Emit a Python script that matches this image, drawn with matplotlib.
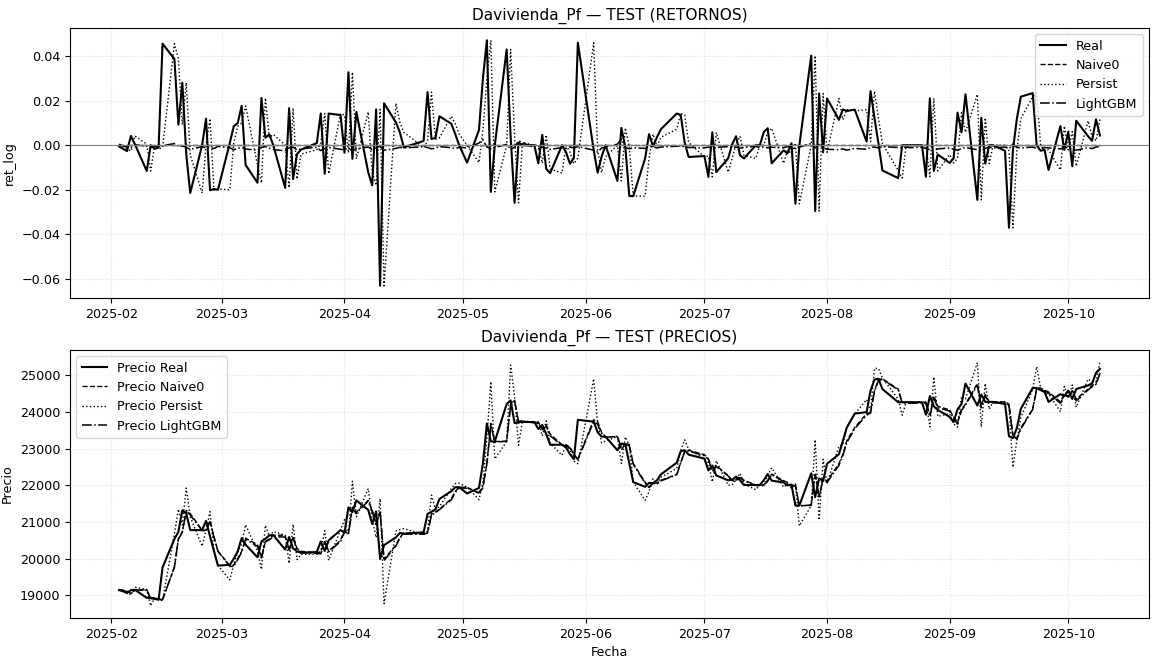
import numpy as np
import pandas as pd
import matplotlib
matplotlib.use("Agg")
import matplotlib.pyplot as plt

plt.rcParams["font.size"] = 9.2

# Trading calendar (Colombian market holidays removed)
festivos = ["2025-03-24", "2025-04-17", "2025-04-18", "2025-05-01", "2025-06-02",
            "2025-06-23", "2025-06-30", "2025-08-07", "2025-08-18"]
fechas = pd.bdate_range("2025-02-03", "2025-10-09", freq="C", holidays=festivos)

# Closing prices (COP) by month
precio_feb = [19140, 19110, 19060, 19140, 19150, 18930, 18930, 18900, 18880, 19760,
              20540, 20730, 21320, 21230, 20780, 20780, 21030, 20610, 20210, 19810]
precio_mar = [19830, 20000, 20200, 20560, 20380, 20040, 20470, 20540, 20640, 20640,
              20250, 20590, 20280, 20200, 20160, 20180, 20470, 20210, 20500, 20780]
precio_abr = [20710, 21400, 21270, 21590, 21330, 20950, 21290, 19990, 20370, 20580,
              20700, 20680, 20720, 21220, 21280, 21350, 21630, 21840, 21950, 21950]
precio_may = [21780, 21930, 22600, 23690, 23200, 23200, 24220, 24320, 23700, 23730,
              23730, 23730, 23540, 23650, 23400, 23110, 23110, 23040, 22850, 22720, 23790]
precio_jun = [23740, 23450, 23330, 23330, 22960, 23140, 23120, 22600, 22090, 21960,
              22070, 22060, 22140, 22300, 22620, 22930, 22960, 22840]
precio_jul = [22730, 22410, 22540, 22270, 22140, 22150, 22240, 22140, 22010, 22010,
              22010, 22140, 22310, 22130, 22080, 22000, 22020, 21450, 21450, 22330,
              21680, 22190, 22120]
precio_ago = [22590, 22850, 23220, 23580, 23960, 24000, 24590, 24890, 24910, 24630,
              24270, 24270, 24270, 24270, 24270, 23930, 24440, 24160, 24060]
precio_sep = [23870, 23730, 24080, 24220, 24780, 24180, 24480, 24280, 24280, 24280,
              24220, 23340, 23290, 23570, 24090, 24660, 24660, 24600, 24550, 24280,
              24490, 24440]
precio_oct = [24590, 24360, 24630, 24730, 24780, 25070, 25180]

# Last close and log return before the test window
precio_previo = 19150
ret_previo = 0.0

# LightGBM predicted log returns by month
lgbm_feb = [0.0005, -0.0003, -0.0008, -0.0010, 0.0002, -0.0004, -0.0012, -0.0006, -0.0004, -0.0002,
            0.0008, -0.0005, -0.0003, -0.0010, -0.0018, -0.0006, -0.0012, -0.0008, -0.0015, -0.0005]
lgbm_mar = [-0.0011, -0.0020, -0.0014, -0.0009, -0.0017, -0.0022, -0.0010, -0.0006, -0.0013, -0.0019,
            -0.0025, -0.0012, -0.0008, -0.0021, -0.0016, -0.0009, -0.0024, -0.0014, -0.0010, -0.0018]
lgbm_abr = [-0.0020, -0.0012, -0.0026, -0.0015, -0.0008, -0.0019, -0.0011, -0.0005, -0.0022, -0.0014,
            -0.0009, -0.0012, -0.0007, -0.0010, -0.0016, -0.0013, -0.0006, -0.0011, -0.0015, -0.0009]
lgbm_may = [-0.0012, 0.0010, 0.0025, -0.0008, -0.0015, -0.0010, 0.0004, -0.0018, -0.0009, 0.0020,
            0.0012, -0.0011, -0.0016, -0.0008, -0.0013, -0.0019, -0.0010, -0.0014, -0.0008, -0.0012, -0.0006]
lgbm_jun = [-0.0022, -0.0030, -0.0012, -0.0008, 0.0005, 0.0028, -0.0010, -0.0016, -0.0011, -0.0014,
            -0.0009, -0.0006, -0.0012, -0.0008, -0.0004, -0.0002, -0.0007, -0.0010]
lgbm_jul = [-0.0012, -0.0008, -0.0015, -0.0010, -0.0006, -0.0011, -0.0008, -0.0013, -0.0009, -0.0005,
            -0.0010, -0.0007, -0.0012, -0.0009, -0.0011, -0.0006, -0.0010, -0.0014, -0.0008, 0.0008,
            -0.0012, 0.0004, -0.0010]
lgbm_ago = [-0.0018, -0.0020, -0.0016, -0.0022, -0.0014, -0.0018, -0.0010, -0.0008, -0.0012, -0.0006,
            -0.0010, -0.0012, -0.0008, -0.0011, -0.0009, -0.0014, -0.0020, -0.0024, -0.0016]
lgbm_sep = [-0.0012, -0.0018, -0.0022, -0.0015, -0.0010, -0.0020, -0.0026, -0.0014, -0.0009, -0.0012,
            -0.0008, -0.0016, 0.0006, -0.0010, -0.0012, -0.0008, -0.0014, -0.0018, -0.0010, -0.0012,
            -0.0016, -0.0009]
lgbm_oct = [-0.0012, -0.0018, -0.0022, -0.0010, -0.0015, -0.0008, -0.0006]

precio_real = np.array(precio_feb + precio_mar + precio_abr + precio_may + precio_jun
                       + precio_jul + precio_ago + precio_sep + precio_oct, dtype=float)
ret_lgbm = np.array(lgbm_feb + lgbm_mar + lgbm_abr + lgbm_may + lgbm_jun
                    + lgbm_jul + lgbm_ago + lgbm_sep + lgbm_oct)

# Realised log returns and the three forecasts
precio_lag = np.r_[precio_previo, precio_real[:-1]]
ret_real = np.log(precio_real / precio_lag)
ret_naive0 = np.zeros_like(ret_real)                 # zero-return forecast
ret_persist = np.r_[ret_previo, ret_real[:-1]]       # yesterday's return repeats

# Price reconstruction from each forecast
precio_naive0 = precio_lag * np.exp(ret_naive0)
precio_persist = precio_lag * np.exp(ret_persist)
precio_lgbm = precio_lag * np.exp(ret_lgbm)

W, H = 1153, 661
fig = plt.figure(figsize=(W / 100, H / 100), dpi=100)
izq, der = 70 / W, 1149 / W
ax1 = fig.add_axes([izq, 1 - 298 / H, der - izq, 270 / H])
ax2 = fig.add_axes([izq, 1 - 618 / H, der - izq, 268 / H])

ax1.plot(fechas, ret_real, color="black", lw=1.5, ls="-", label="Real")
ax1.plot(fechas, ret_naive0, color="black", lw=1.0, ls="--", label="Naive0")
ax1.plot(fechas, ret_persist, color="black", lw=1.0, ls=":", label="Persist")
ax1.plot(fechas, ret_lgbm, color="black", lw=1.1, ls="-.", label="LightGBM")
ax1.axhline(0, color="gray", lw=0.8)
ax1.set_title("Davivienda_Pf — TEST (RETORNOS)")
ax1.set_ylabel("ret_log")
ax1.grid(True, ls=":", alpha=0.4)
ax1.legend(loc="upper right")

ax2.plot(fechas, precio_real, color="black", lw=1.5, ls="-", label="Precio Real")
ax2.plot(fechas, precio_naive0, color="black", lw=1.0, ls="--", label="Precio Naive0")
ax2.plot(fechas, precio_persist, color="black", lw=1.0, ls=":", label="Precio Persist")
ax2.plot(fechas, precio_lgbm, color="black", lw=1.1, ls="-.", label="Precio LightGBM")
ax2.set_title("Davivienda_Pf — TEST (PRECIOS)")
ax2.set_ylabel("Precio")
ax2.set_xlabel("Fecha")
ax2.grid(True, ls=":", alpha=0.4)
ax2.legend(loc="upper left")

fig.savefig("out.png", dpi=100)
